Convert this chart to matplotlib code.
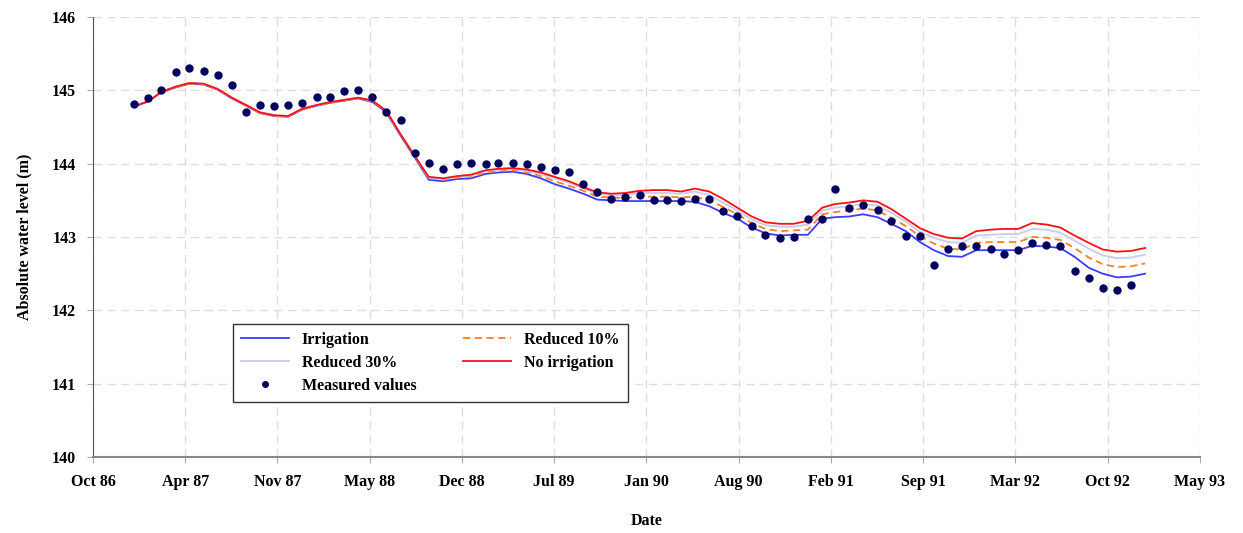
import datetime as dt
import numpy as np
import matplotlib
matplotlib.use('Agg')
import matplotlib.pyplot as plt
import matplotlib.dates as mdates

# monthly values, Jan 1987 onwards
measured = [144.81, 144.89, 145.01, 145.25, 145.31, 145.27, 145.21, 145.07, 144.71, 144.80,
            144.78, 144.80, 144.83, 144.91, 144.91, 144.99, 145.01, 144.91, 144.71, 144.60,
            144.15, 144.01, 143.93, 144.00, 144.01, 144.00, 144.01, 144.01, 144.00, 143.96,
            143.91, 143.88, 143.72, 143.61, 143.52, 143.54, 143.57, 143.50, 143.50, 143.49,
            143.52, 143.52, 143.36, 143.28, 143.15, 143.03, 142.99, 143.00, 143.24, 143.25,
            143.66, 143.40, 143.43, 143.37, 143.22, 143.02, 143.02, 142.62, 142.83, 142.88,
            142.88, 142.83, 142.77, 142.82, 142.92, 142.89, 142.88, 142.53, 142.44, 142.31,
            142.28, 142.34]

irrigation = [144.78, 144.85, 144.97, 145.04, 145.09, 145.08, 145.01, 144.89, 144.79, 144.69,
              144.65, 144.64, 144.74, 144.79, 144.83, 144.86, 144.89, 144.84, 144.70, 144.38,
              144.08, 143.78, 143.76, 143.79, 143.80, 143.86, 143.88, 143.89, 143.86, 143.80,
              143.72, 143.66, 143.59, 143.51, 143.50, 143.49, 143.49, 143.49, 143.49, 143.49,
              143.48, 143.42, 143.33, 143.25, 143.13, 143.05, 143.02, 143.03, 143.03, 143.25,
              143.27, 143.28, 143.31, 143.27, 143.18, 143.08, 142.93, 142.82, 142.74, 142.73,
              142.82, 142.82, 142.82, 142.82, 142.88, 142.87, 142.85, 142.73, 142.58, 142.50,
              142.45, 142.46, 142.50]

reduced10 = [144.78, 144.85, 144.97, 145.04, 145.09, 145.08, 145.01, 144.89, 144.79, 144.69,
             144.65, 144.64, 144.74, 144.79, 144.83, 144.86, 144.89, 144.85, 144.71, 144.39,
             144.09, 143.80, 143.78, 143.81, 143.82, 143.88, 143.90, 143.91, 143.88, 143.83,
             143.76, 143.70, 143.63, 143.55, 143.54, 143.53, 143.55, 143.55, 143.55, 143.54,
             143.55, 143.50, 143.41, 143.31, 143.19, 143.11, 143.08, 143.09, 143.10, 143.31,
             143.34, 143.36, 143.39, 143.36, 143.26, 143.15, 143.01, 142.91, 142.84, 142.83,
             142.92, 142.93, 142.93, 142.93, 143.00, 142.99, 142.96, 142.85, 142.72, 142.63,
             142.59, 142.60, 142.64]

reduced30 = [144.78, 144.85, 144.98, 145.05, 145.10, 145.09, 145.02, 144.90, 144.80, 144.70,
             144.66, 144.65, 144.75, 144.80, 144.84, 144.87, 144.90, 144.86, 144.72, 144.40,
             144.10, 143.81, 143.79, 143.82, 143.84, 143.90, 143.92, 143.93, 143.90, 143.86,
             143.80, 143.74, 143.66, 143.59, 143.57, 143.57, 143.60, 143.60, 143.60, 143.59,
             143.62, 143.57, 143.47, 143.36, 143.24, 143.16, 143.14, 143.14, 143.17, 143.36,
             143.40, 143.42, 143.45, 143.43, 143.33, 143.21, 143.07, 142.99, 142.93, 142.92,
             143.02, 143.03, 143.04, 143.04, 143.11, 143.10, 143.06, 142.95, 142.84, 142.75,
             142.71, 142.72, 142.76]

no_irrigation = [144.78, 144.85, 144.98, 145.05, 145.10, 145.09, 145.02, 144.90, 144.80, 144.70,
                 144.66, 144.65, 144.75, 144.80, 144.84, 144.87, 144.90, 144.86, 144.72, 144.40,
                 144.10, 143.82, 143.80, 143.83, 143.85, 143.91, 143.93, 143.94, 143.92, 143.88,
                 143.82, 143.76, 143.68, 143.61, 143.59, 143.60, 143.63, 143.64, 143.64, 143.62,
                 143.66, 143.62, 143.52, 143.40, 143.28, 143.20, 143.18, 143.18, 143.22, 143.40,
                 143.45, 143.47, 143.50, 143.48, 143.38, 143.25, 143.12, 143.04, 142.99, 142.98,
                 143.08, 143.10, 143.11, 143.11, 143.19, 143.17, 143.13, 143.02, 142.92, 142.83,
                 142.80, 142.81, 142.85]


def month_dates(n):
    return [dt.date(1987 + (i // 12), i % 12 + 1, 5) for i in range(n)]


meas_dates = month_dates(len(measured))
model_dates = month_dates(len(irrigation))

plt.rcParams['font.family'] = ['Liberation Serif', 'DejaVu Serif']
plt.rcParams['font.weight'] = 'bold'

fig = plt.figure(figsize=(12.43, 5.33), dpi=100)
ax = fig.add_axes([0.0748, 0.1426, 0.8906, 0.8255])

ax.plot(model_dates, irrigation, color='#3c3cff', lw=1.3, label='Irrigation')
ax.plot(model_dates, reduced10, color='#ff7f27', lw=1.3, ls=(0, (4, 2.5)), label='Reduced 10%')
ax.plot(model_dates, reduced30, color='#c9c9f2', lw=1.3, label='Reduced 30%')
ax.plot(model_dates, no_irrigation, color='#ff1010', lw=1.3, label='No irrigation')
ax.plot(meas_dates, measured, 'o', color='#00005e', ms=5, ls='none', label='Measured values')

x0 = dt.date(1986, 10, 8)
ax.set_xlim(x0, x0 + dt.timedelta(days=2400))
ax.set_ylim(140, 146)
ax.set_xticks([x0 + dt.timedelta(days=200 * k) for k in range(13)])
ax.xaxis.set_major_formatter(mdates.DateFormatter('%b %y'))
ax.set_yticks(np.arange(140, 147, 1))

ax.grid(True, color='#dddddd', ls=(0, (6, 4)), lw=1.0)
ax.set_axisbelow(True)
for s in ['top', 'right']:
    ax.spines[s].set_visible(False)
ax.spines['left'].set_color('#555555')
ax.spines['bottom'].set_color('#888888')
ax.spines['bottom'].set_linewidth(1.5)
ax.tick_params(axis='both', labelsize=11.5, colors='#000000', length=4, pad=8)
ax.tick_params(axis='both', color='#aaaaaa')

ax.set_xlabel('Date', fontsize=11.5, fontweight='bold', labelpad=17)
ax.set_ylabel('Absolute water level (m)', fontsize=11.5, fontweight='bold', labelpad=14)

h, l = ax.get_legend_handles_labels()
order = [0, 2, 4, 1, 3]
leg = ax.legend([h[i] for i in order], [l[i] for i in order], ncol=2,
                loc='lower left', bbox_to_anchor=(0.1265, 0.125), borderaxespad=0,
                fancybox=False, edgecolor='#333333', framealpha=1,
                fontsize=11.5, handlelength=3.0, columnspacing=2.95,
                labelspacing=0.45, borderpad=0.5, markerscale=0.8)
leg.get_frame().set_linewidth(1.0)

plt.savefig('out.png', dpi=100)
